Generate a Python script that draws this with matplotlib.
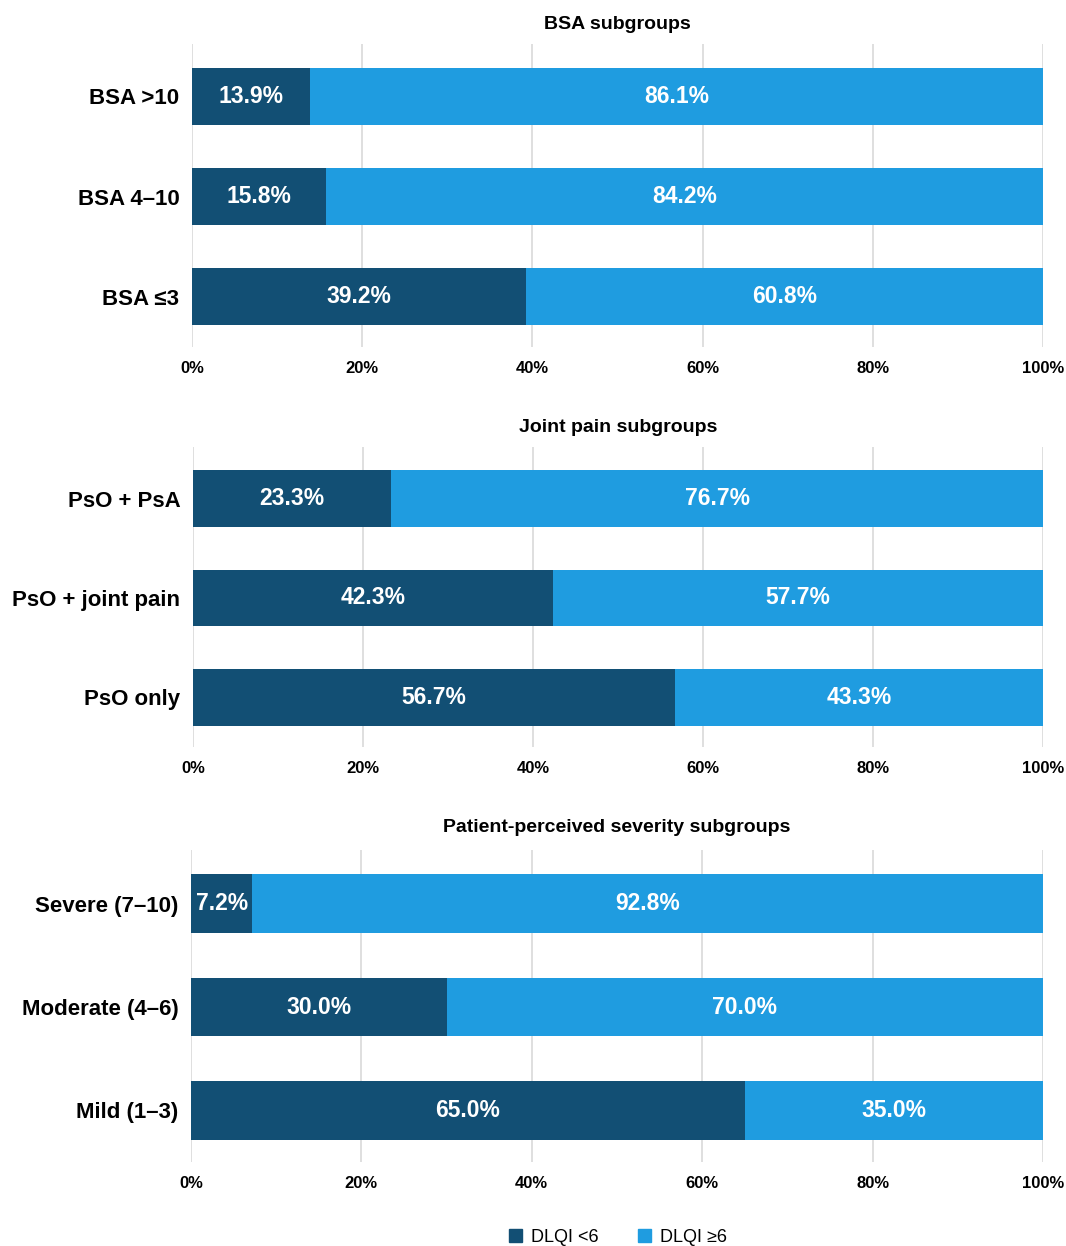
import numpy as np
import matplotlib.pyplot as plt
from matplotlib.patches import Patch

plt.rcParams['font.family'] = ['Liberation Sans', 'DejaVu Sans']

# subgroup labels, bottom to top
bsa_labels = ['BSA \u22643', 'BSA 4\u201310', 'BSA >10']
bsa_low = [39.2, 15.8, 13.9]
bsa_high = [60.8, 84.2, 86.1]

joint_labels = ['PsO only', 'PsO + joint pain', 'PsO + PsA']
joint_low = [56.7, 42.3, 23.3]
joint_high = [43.3, 57.7, 76.7]

sev_labels = ['Mild (1\u20133)', 'Moderate (4\u20136)', 'Severe (7\u201310)']
sev_low = [65.0, 30.0, 7.2]
sev_high = [35.0, 70.0, 92.8]

titles = ['BSA subgroups', 'Joint pain subgroups', 'Patient-perceived severity subgroups']
ticks = [0, 20, 40, 60, 80, 100]

dark = '#124f74'
light = '#1f9ce0'
grid_c = '#d9d9d9'

W, H = 1066, 1246
fig = plt.figure(figsize=(W / 100, H / 100), dpi=100)

# axes boxes in pixels: left, right, top, bottom, title pad
boxes = [(192, 1043, 44, 347, 11), (193, 1043, 447, 747, 11), (191, 1043, 850, 1162, 13)]
panels = [(bsa_labels, bsa_low, bsa_high),
          (joint_labels, joint_low, joint_high),
          (sev_labels, sev_low, sev_high)]

for (l, r, t, b, tpad), (labels, low, high), title in zip(boxes, panels, titles):
    ax = fig.add_axes([l / W, 1 - b / H, (r - l) / W, (b - t) / H])
    y = np.arange(len(labels))
    ax.barh(y, low, height=0.57, color=dark, zorder=2)
    ax.barh(y, high, left=low, height=0.57, color=light, zorder=2)
    for yi, lo, hi in zip(y, low, high):
        ax.text(lo / 2, yi, f'{lo:.1f}%', ha='center', va='center',
                color='white', fontsize=16.5, fontweight='bold', zorder=3)
        ax.text(lo + hi / 2, yi, f'{hi:.1f}%', ha='center', va='center',
                color='white', fontsize=16.5, fontweight='bold', zorder=3)
    ax.set_xlim(0, 100)
    ax.set_ylim(-0.5, 2.52)
    ax.set_xticks(ticks)
    ax.set_xticklabels([f'{v}%' for v in ticks], fontsize=12, fontweight='bold')
    ax.set_yticks(y)
    ax.set_yticklabels(labels, fontsize=16, fontweight='bold')
    ax.tick_params(length=0, axis='x', pad=10)
    ax.tick_params(length=0, axis='y', pad=9)
    ax.grid(axis='x', color=grid_c, linewidth=1.2, zorder=0)
    for s in ax.spines.values():
        s.set_visible(False)
    ax.set_title(title, fontsize=14, fontweight='bold', pad=tpad)

handles = [Patch(color=dark, label='DLQI <6'), Patch(color=light, label='DLQI \u22656')]
fig.legend(handles=handles, loc='center', bbox_to_anchor=(618 / W, 1 - 1237 / H),
           ncol=2, frameon=False, fontsize=13, handlelength=0.7, handleheight=0.7,
           columnspacing=2.2, handletextpad=0.5)

fig.savefig('out.png', dpi=100, facecolor='white')
